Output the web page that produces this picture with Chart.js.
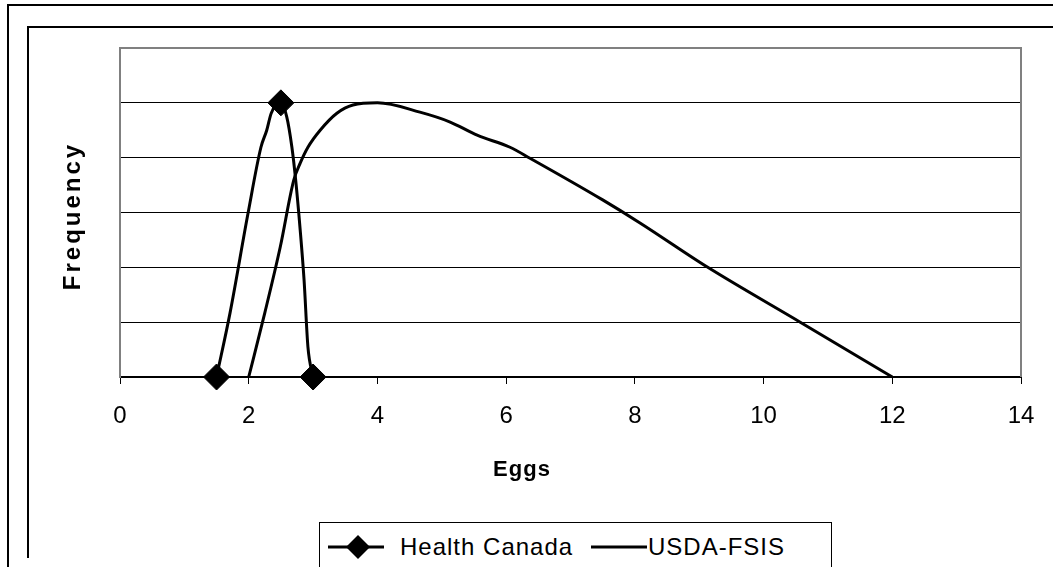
<!DOCTYPE html>
<html>
<head>
<meta charset="utf-8">
<script src="https://cdn.jsdelivr.net/npm/chart.js@4"></script>
<style>
  body { margin: 0; background: #fff; font-family: "Liberation Sans", Arial, sans-serif; }
  #wrap { position: relative; width: 1053px; height: 567px; overflow: hidden; }
  #outer { position: absolute; left: 7px; top: 4px; width: 1100px; height: 600px; border: 2px solid #000; }
  #inner { position: absolute; left: 27px; top: 26px; width: 1100px; height: 530px; border-top: 2px solid #000; border-left: 2px solid #000; }
  canvas { position: absolute; left: 0; top: 0; }
  #legend { position: absolute; left: 319px; top: 522px; width: 511px; height: 60px; border: 1px solid #000; background: #fff; }
  .item { position: absolute; top: 10px; font-size: 24px; letter-spacing: 1px; color: #000; line-height: 28px; }
  .item svg { position: absolute; top: 0; }
</style>
</head>
<body>
<div id="wrap">
  <div id="outer"></div>
  <div id="inner"></div>
  <canvas id="chart" width="1053" height="567"></canvas>
  <div id="legend"></div>
</div>
<script>
// Health Canada curve (markers only on the three given points)
const hcX = [1.5, 1.71, 1.99, 2.19, 2.28, 2.35, 2.5, 2.59, 2.67, 2.73, 2.80, 2.86, 2.92, 3];
const hcY = [0, 1.17, 2.99, 4.19, 4.5, 4.81, 5, 4.75, 4.2, 3.59, 2.68, 1.77, 0.55, 0];
const hcMarkers = [1.5, 2.5, 3];

// USDA-FSIS curve
const usX = [2, 2.25, 2.49, 2.70, 2.80, 2.92, 3.11, 3.37, 3.62, 4, 4.66, 5.13, 5.55, 6.06, 6.37, 7.5, 8.08, 9.12, 10.57, 12];
const usY = [0, 1.17, 2.37, 3.59, 3.9, 4.19, 4.5, 4.81, 4.96, 5, 4.83, 4.65, 4.41, 4.19, 3.99, 3.23, 2.81, 2.01, 1.0, 0];

const seriesNames = ['Health Canada', 'USDA-FSIS'];
const xTicks = [0, 2, 4, 6, 8, 10, 12, 14];
const xTitle = 'Eggs';
const yTitle = 'Frequency';

function toPoints(xs, ys) {
  return xs.map(function(x, i) { return { x: x, y: ys[i] }; });
}

// border around the plot area + axis titles placed like the original
const framePlugin = {
  id: 'frame',
  beforeDatasetsDraw(chart) {
    const a = chart.chartArea;
    const ctx = chart.ctx;
    ctx.save();
    ctx.strokeStyle = '#808080';
    ctx.lineWidth = 2;
    ctx.beginPath();
    ctx.moveTo(a.left, a.bottom);
    ctx.lineTo(a.left, a.top);
    ctx.lineTo(a.right, a.top);
    ctx.lineTo(a.right, a.bottom);
    ctx.stroke();
    ctx.restore();
  },
  afterDraw(chart) {
    const ctx = chart.ctx;
    ctx.save();
    ctx.fillStyle = '#000';
    ctx.textAlign = 'center';
    ctx.textBaseline = 'middle';
    ctx.font = 'bold 22px "Liberation Sans", Arial, sans-serif';
    ctx.letterSpacing = '1px';
    ctx.fillText(xTitle, 522, 470);
    ctx.font = 'bold 24px "Liberation Sans", Arial, sans-serif';
    ctx.letterSpacing = '3px';
    ctx.translate(73, 216);
    ctx.rotate(-Math.PI / 2);
    ctx.fillText(yTitle, 0, 0);
    ctx.restore();
  }
};

new Chart(document.getElementById('chart'), {
  type: 'scatter',
  data: {
    datasets: [
      {
        label: seriesNames[0],
        data: toPoints(hcX, hcY),
        showLine: true,
        clip: false,
        borderColor: '#000',
        backgroundColor: '#000',
        borderWidth: 3,
        cubicInterpolationMode: 'monotone',
        pointStyle: 'rectRot',
        pointRadius: function(c) { return c.raw && hcMarkers.includes(c.raw.x) ? 13 : 0; },
        pointBorderWidth: 1
      },
      {
        label: seriesNames[1],
        data: toPoints(usX, usY),
        showLine: true,
        clip: false,
        borderColor: '#000',
        borderWidth: 3,
        cubicInterpolationMode: 'monotone',
        pointRadius: 0
      }
    ]
  },
  options: {
    responsive: false,
    animation: false,
    layout: { padding: { left: 0, top: 48, right: 32, bottom: 0 } },
    plugins: { legend: { display: false }, tooltip: { enabled: false } },
    scales: {
      x: {
        type: 'linear',
        min: 0, max: 14,
        afterFit: function(s) { s.height = 190; },
        afterBuildTicks: function(s) { s.ticks = xTicks.map(function(v) { return { value: v }; }); },
        grid: { drawOnChartArea: false, drawTicks: true, tickLength: 7, color: '#000', lineWidth: 1 },
        border: { color: '#000', width: 2 },
        ticks: { color: '#000', font: { family: '"Liberation Sans", Arial, sans-serif', size: 24 }, padding: 18 }
      },
      y: {
        min: 0, max: 6,
        afterFit: function(s) { s.width = 120; },
        ticks: { display: false, stepSize: 1 },
        grid: {
          drawTicks: false,
          color: function(c) { return c.tick.value === 6 ? '#808080' : '#000'; },
          lineWidth: function(c) { return c.tick.value === 6 ? 2 : 1; }
        },
        border: { color: '#808080', width: 2 }
      }
    }
  },
  plugins: [framePlugin]
});

// legend as html, same look as the original
const legend = document.getElementById('legend');
const glyphs = [
  '<svg width="56" height="28"><line x1="0" y1="14" x2="56" y2="14" stroke="#000" stroke-width="3"/><polygon points="30,2 42,14 30,26 18,14" fill="#000"/></svg>',
  '<svg width="56" height="28"><line x1="0" y1="14" x2="56" y2="14" stroke="#000" stroke-width="3"/></svg>'
];
const itemLeft = [8, 271];
seriesNames.forEach(function(name, i) {
  const el = document.createElement('div');
  el.className = 'item';
  el.style.left = itemLeft[i] + 'px';
  el.innerHTML = glyphs[i] + '<span style="margin-left:' + (i === 0 ? 72 : 57) + 'px">' + name + '</span>';
  legend.appendChild(el);
});
</script>
</body>
</html>
